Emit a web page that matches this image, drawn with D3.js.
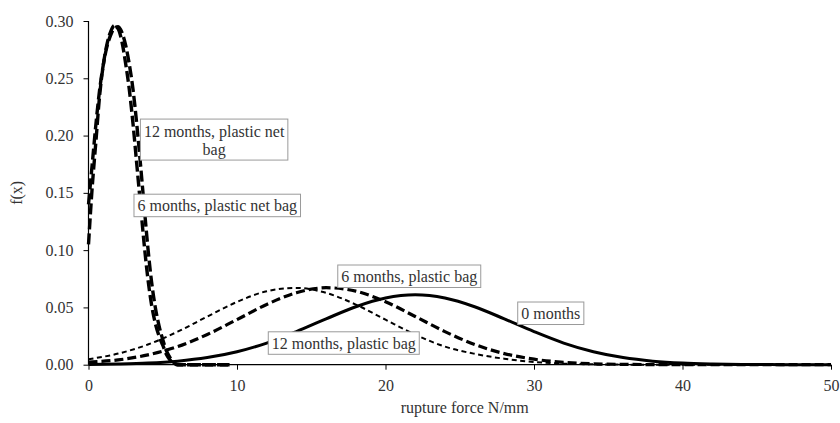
<!DOCTYPE html>
<html>
<head>
<meta charset="utf-8">
<script src="https://cdn.jsdelivr.net/npm/d3@7"></script>
<style>
  html, body { margin: 0; padding: 0; background: #fff; }
  svg text { font-family: "Liberation Serif", "Times New Roman", Times, serif; fill: #333; }
</style>
</head>
<body>
<svg id="chart" width="840" height="423"></svg>
<script>
// Rupture force density curves, f(x) read at sampled x positions (N/mm)

// Wide distributions sampled every 2 N/mm
const xWide = [0, 2, 4, 6, 8, 10, 12, 14, 16, 18, 20, 22, 24, 26, 28, 30, 32, 34, 36, 38, 40, 42, 44, 46, 48, 50];
const months0 = [0.0002, 0.0006, 0.0014, 0.0031, 0.0062, 0.0113, 0.0189, 0.0289, 0.0400, 0.0506, 0.0582, 0.0610,
                 0.0582, 0.0506, 0.0400, 0.0289, 0.0189, 0.0113, 0.0062, 0.0031, 0.0014, 0.0006, 0.0002, 0.0001, 0, 0];
const months6Plastic = [0.0022, 0.0042, 0.0086, 0.0158, 0.0264, 0.0394, 0.0526, 0.0628, 0.0672, 0.0642, 0.0550, 0.0421,
                        0.0289, 0.0177, 0.0097, 0.0048, 0.0021, 0.0008, 0.0003, 0.0001, 0, 0, 0, 0, 0, 0];
const months12Plastic = [0.0048, 0.0097, 0.0176, 0.0288, 0.0420, 0.0548, 0.0641, 0.0670, 0.0627, 0.0525, 0.0393, 0.0263,
                         0.0158, 0.0095, 0.0052, 0.0024, 0.0010, 0.0003, 0.0001, 0, 0, 0, 0, 0, 0, 0];

// Narrow distributions (plastic net bag) sampled every 0.25 N/mm near the peak
const xNarrow = [0, 0.25, 0.5, 0.75, 1, 1.25, 1.5, 1.75, 2, 2.25, 2.5, 2.75, 3, 3.25, 3.5, 3.75, 4, 4.25, 4.5, 4.75,
                 5, 5.25, 5.5, 5.75, 6, 7, 8, 9, 9.5];
const months12Net = [0.105, 0.155, 0.195, 0.235, 0.262, 0.280, 0.291, 0.296, 0.293, 0.282, 0.263, 0.240, 0.210, 0.175,
                     0.140, 0.105, 0.075, 0.052, 0.036, 0.025, 0.017, 0.009, 0.004, 0.001, 0, 0, 0, 0, 0];
const months6Net = [0.140, 0.175, 0.210, 0.240, 0.262, 0.278, 0.288, 0.294, 0.295, 0.290, 0.279, 0.262, 0.240, 0.210,
                    0.175, 0.138, 0.102, 0.072, 0.050, 0.034, 0.022, 0.012, 0.006, 0.002, 0, 0, 0, 0, 0];

const xTicks = [0, 10, 20, 30, 40, 50];
const yTicks = [0, 0.05, 0.10, 0.15, 0.20, 0.25, 0.30];

// Curve labels: text lines and the data point each box is centred on
const labelText = [["12 months, plastic net", "bag"], ["6 months, plastic net bag"], ["6 months, plastic bag"],
                   ["12 months, plastic bag"], ["0 months"]];
const labelX = [8.46, 8.67, 21.6, 17.19, 31.13];
const labelY = [0.1965, 0.139, 0.0772, 0.0189, 0.0449];

// ---- layout ----
const svg = d3.select("#chart");
const plotLeft = 88.5, plotRight = 831, plotTop = 21, plotBottom = 364.7;

const x = d3.scaleLinear().domain([0, 50]).range([plotLeft, plotRight]);
const y = d3.scaleLinear().domain([0, 0.30]).range([plotBottom, plotTop]);

// axes
const xAxis = d3.axisBottom(x).tickValues(xTicks).tickSize(5).tickPadding(10).tickFormat(d3.format("d"));
const yAxis = d3.axisLeft(y).tickValues(yTicks).tickSize(5).tickPadding(10).tickFormat(d3.format(".2f"));

const gx = svg.append("g").attr("transform", `translate(0,${plotBottom})`).call(xAxis);
const gy = svg.append("g").attr("transform", `translate(${plotLeft},0)`).call(yAxis);
[gx, gy].forEach(g => {
  g.attr("font-family", null);
  g.select(".domain").attr("stroke", "#000").attr("stroke-width", 1.2);
  g.selectAll(".tick line").attr("stroke", "#000").attr("stroke-width", 1);
  g.selectAll(".tick text")
    .style("font-family", '"Liberation Serif", "Times New Roman", serif')
    .style("font-size", "16px").attr("fill", "#333");
});
gx.select(".domain").attr("d", `M${plotLeft},0H${plotRight}`);
gy.select(".domain").attr("d", `M0,${plotTop}V${plotBottom}`);

// axis titles
svg.append("text")
  .attr("x", (plotLeft + plotRight) / 2 + 5).attr("y", 413)
  .attr("text-anchor", "middle").style("font-size", "16px")
  .text("rupture force N/mm");
svg.append("text")
  .attr("transform", `translate(22,${(plotTop + plotBottom) / 2}) rotate(-90)`)
  .attr("text-anchor", "middle").style("font-size", "16px")
  .text("f(x)");

// curves
const series = [
  { xs: xWide, ys: months0, width: 3, dash: null },
  { xs: xWide, ys: months6Plastic, width: 3.2, dash: "9,4" },
  { xs: xWide, ys: months12Plastic, width: 2, dash: "5,3.5" },
  { xs: xNarrow, ys: months12Net, width: 3.4, dash: "11,4" },
  { xs: xNarrow, ys: months6Net, width: 3.4, dash: "11,4" }
];

const line = d3.line()
  .x(d => x(d[0]))
  .y(d => y(d[1]))
  .curve(d3.curveMonotoneX);

svg.append("g").selectAll("path")
  .data(series)
  .join("path")
  .attr("d", s => line(s.xs.map((v, i) => [v, s.ys[i]])))
  .attr("fill", "none")
  .attr("stroke", "#000")
  .attr("stroke-width", s => s.width)
  .attr("stroke-dasharray", s => s.dash)
  .attr("stroke-linejoin", "round");

// labels in white boxes
const lineGap = 18;
labelText.forEach((lines, i) => {
  const cx = x(labelX[i]), cy = y(labelY[i]);
  const g = svg.append("g");
  const rect = g.append("rect");
  const texts = lines.map((t, j) =>
    g.append("text")
      .attr("x", cx)
      .attr("y", cy + (j - (lines.length - 1) / 2) * lineGap + 6)
      .attr("text-anchor", "middle")
      .style("font-size", "16px")
      .text(t));
  const w = d3.max(texts, t => t.node().getComputedTextLength()) + 7;
  const h = lines.length * 18.5 + 4;
  rect.attr("x", cx - w / 2).attr("y", cy - h / 2)
    .attr("width", w).attr("height", h)
    .attr("fill", "#fff").attr("stroke", "#9a9a9a").attr("stroke-width", 1);
  // keep the box behind its text
  rect.lower();
});
</script>
</body>
</html>
